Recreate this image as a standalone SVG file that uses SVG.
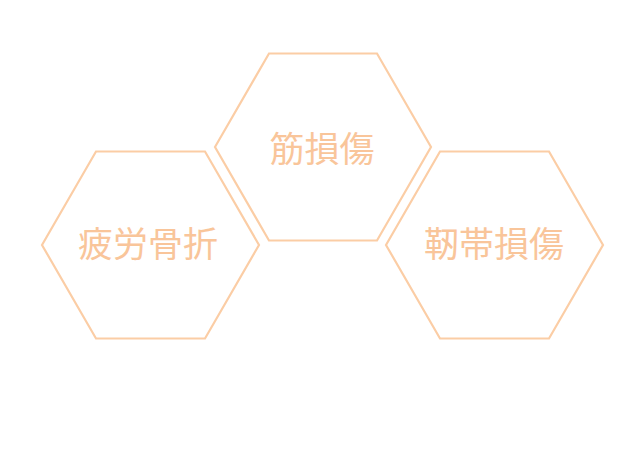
<svg xmlns="http://www.w3.org/2000/svg" width="642" height="462" viewBox="0 0 642 462">
<style>
.hex{fill:none;stroke:#FBCDA5;stroke-width:2.2;stroke-linejoin:miter}
.lbl{font-family:"Noto Sans CJK JP","Noto Sans CJK SC",sans-serif;font-size:35px;fill:#F9C59A;text-anchor:middle;dominant-baseline:central}
</style>
<rect width="642" height="462" fill="#FFFFFF"/>
<g id="connectors"></g>
<g id="node-kinsonsho">
<polygon class="hex" points="215,147 269,53.5 377,53.5 431,147 377,240.5 269,240.5"/>
<text class="lbl" x="322" y="146">筋損傷</text>
</g>
<g id="node-hiroukossetsu">
<polygon class="hex" points="42,245 96,151.5 205,151.5 259,245 205,338.5 96,338.5"/>
<text class="lbl" x="148" y="241">疲労骨折</text>
</g>
<g id="node-jintaisonsho">
<polygon class="hex" points="386,245 440,151.5 549,151.5 603,245 549,338.5 440,338.5"/>
<text class="lbl" x="494" y="241">靭帯損傷</text>
</g>
</svg>
